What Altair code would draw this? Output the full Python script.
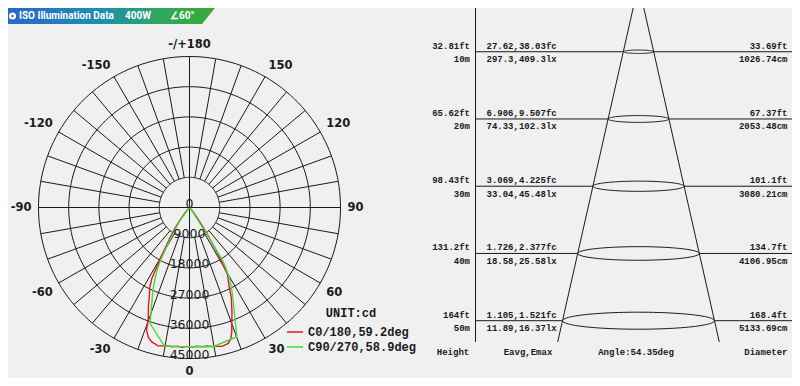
import numpy as np
import pandas as pd
import altair as alt

# ---------------- data ----------------
series_names = ["C0/180,59.2deg", "C90/270,58.9deg"]

c0_angle = [-90, -60, -50, -45, -40, -37.5, -35, -33, -31.3, -30.2, -29.2, -28, -26.5, -24.6,
            -22.5, -20.4, -19.3, -17.5, -15.7, -12.8, -11, -9, -7, -5, -3, -1, 1, 3, 5, 7, 9,
            11, 13.2, 15.9, 17.5, 18.8, 20.5, 22, 23.4, 25, 26.5, 28.5, 29.5, 30.4, 31.4, 32.4,
            33.8, 35, 37, 40, 45, 50, 60, 90]
c0_cd = [0, 0, 150, 500, 2200, 4200, 7500, 10500, 13100, 16000, 19000, 23800, 26500, 28700,
         32000, 35200, 38700, 40700, 41600, 42300, 42000, 41800, 41800, 41500, 41700, 41400,
         41600, 41400, 41700, 41600, 41900, 42100, 42500, 42100, 41000, 39100, 36000, 33800,
         31600, 29500, 26500, 24000, 23100, 19900, 16500, 13200, 9000, 6500, 3500, 1500, 500,
         150, 0, 0]

c90_angle = [-90, -60, -50, -45, -40, -36, -33.7, -32, -30.6, -28.6, -27.5, -26.2, -24, -21.2,
             -18.8, -14.3, -10.3, -5, 0, 5, 9.7, 15, 20.1, 22.5, 24.9, 27, 29.2, 31, 32, 32.7,
             33.2, 35, 40, 45, 50, 90]
c90_cd = [0, 0, 0, 200, 600, 4500, 6900, 9500, 12400, 18400, 20500, 23000, 26800, 31200,
          36500, 39100, 41950, 41600, 41500, 41600, 42080, 41340, 41000, 35250, 30960, 27800,
          24740, 21000, 18450, 12000, 6500, 2000, 600, 200, 0, 0]

ring_cd = [9000, 18000, 27000, 36000, 45000]
ring_labels = ["9000", "18000", "27000", "36000", "45000"]
angle_ticks = [-150, -120, -90, -60, -30, 0, 30, 60, 90, 120, 150, 180]
angle_labels = ["-150", "-120", "-90", "-60", "-30", "0", "30", "60", "90", "120", "150", "-/+180"]

heights_m = [10, 20, 30, 40, 50]
height_ft = ["32.81ft", "65.62ft", "98.43ft", "131.2ft", "164ft"]
height_lbl = ["10m", "20m", "30m", "40m", "50m"]
e_fc = ["27.62,38.03fc", "6.906,9.507fc", "3.069,4.225fc", "1.726,2.377fc", "1.105,1.521fc"]
e_lx = ["297.3,409.3lx", "74.33,102.3lx", "33.04,45.48lx", "18.58,25.58lx", "11.89,16.37lx"]
diam_ft = ["33.69ft", "67.37ft", "101.1ft", "134.7ft", "168.4ft"]
diam_cm = [1026.74, 2053.48, 3080.21, 4106.95, 5133.69]
diam_cm_lbl = ["1026.74cm", "2053.48cm", "3080.21cm", "4106.95cm", "5133.69cm"]
footer_labels = ["Height", "Eavg,Emax", "Angle:54.35deg", "Diameter"]
header_texts = ["ISO Illumination Data", "400W", "\u222060\u00b0"]

# ---------------- styling / layout constants ----------------
W, H = 784, 370
BG = "#f0f0f0"
INK = "#1a1a1a"
RED = "#e8142c"
GREEN = "#3de03d"

# polar panel geometry (chart pixels)
CX, CY, R45 = 181.5, 199.5, 151.0
K = 45000 / R45
xs_p = alt.Scale(domain=[-CX * K, (W - CX) * K], nice=False, zero=False)
ys_p = alt.Scale(domain=[-(H - CY) * K, CY * K], nice=False, zero=False)
LABEL_R = 158 * K

# cone panel geometry
CONE_CX = 630.5
KX = 0.0296            # px per cm of diameter
Y0 = -23.5             # chart y of the apex (0 m)
PXM = 6.724            # px per metre of height
FRAME_BOTTOM_M = (334 - Y0) / PXM
xs_c = alt.Scale(domain=[-CONE_CX / KX, (W - CONE_CX) / KX], nice=False, zero=False)
ys_c = alt.Scale(domain=[(0 - Y0) / PXM, (H - Y0) / PXM], reverse=True, nice=False, zero=False)

# ---------------- polar panel ----------------
t = np.radians(np.arange(0, 361, 2))
circ_df = pd.concat([
    pd.DataFrame({"ring": r, "i": np.arange(len(t)), "x": r * np.sin(t), "y": r * np.cos(t)})
    for r in ring_cd
], ignore_index=True)

sp_ang = np.arange(0, 360, 10)
r0 = np.array([0 if a % 90 == 0 else ring_cd[0] for a in sp_ang])
r1 = np.full(len(sp_ang), ring_cd[-1])
spoke_df = pd.DataFrame({
    "x1": r0 * np.sin(np.radians(sp_ang)), "y1": r0 * np.cos(np.radians(sp_ang)),
    "x2": r1 * np.sin(np.radians(sp_ang)), "y2": r1 * np.cos(np.radians(sp_ang)),
})

curve_df = pd.concat([
    pd.DataFrame({"series": series_names[0], "angle": c0_angle, "cd": c0_cd}),
    pd.DataFrame({"series": series_names[1], "angle": c90_angle, "cd": c90_cd}),
], ignore_index=True)
curve_df["idx"] = np.arange(len(curve_df))

alab_df = pd.DataFrame({"a": angle_ticks, "label": angle_labels})
rlab_df = pd.DataFrame({"cd": [0] + ring_cd, "label": ["0"] + ring_labels})

circles = alt.Chart(circ_df).mark_line(color=INK, strokeWidth=1).encode(
    x=alt.X("x:Q", scale=xs_p, axis=None),
    y=alt.Y("y:Q", scale=ys_p, axis=None),
    detail="ring:N", order="i:Q")

spokes = alt.Chart(spoke_df).mark_rule(color=INK, strokeWidth=1).encode(
    x=alt.X("x1:Q", scale=xs_p, axis=None), y=alt.Y("y1:Q", scale=ys_p, axis=None),
    x2="x2:Q", y2="y2:Q")

curves = alt.Chart(curve_df).transform_calculate(
    px="datum.cd * sin(datum.angle * PI / 180)",
    py="-datum.cd * cos(datum.angle * PI / 180)",
).mark_line(strokeWidth=1.4).encode(
    x=alt.X("px:Q", scale=xs_p, axis=None),
    y=alt.Y("py:Q", scale=ys_p, axis=None),
    order="idx:Q",
    color=alt.Color("series:N", scale=alt.Scale(domain=series_names, range=[RED, GREEN]),
                    legend=alt.Legend(
                        orient="none", legendX=278, legendY=300, padding=0,
                        title="UNIT:cd", titleFont="Liberation Mono", titleFontSize=12,
                        titleFontWeight="bold", titleColor=INK, titleAnchor="middle",
                        titlePadding=3, labelFont="Liberation Mono", labelFontSize=12,
                        labelFontWeight="bold", labelColor=INK, labelLimit=300,
                        symbolType="stroke", symbolSize=256, symbolStrokeWidth=1.5,
                        labelOffset=4, rowPadding=0)))

# angle labels: anchored at the text corner nearest to the circle
def _anchor(a):
    s = np.sin(np.radians(a))
    c = -np.cos(np.radians(a))      # +1 = top of the plot
    align = "left" if s > 0.01 else ("right" if s < -0.01 else "center")
    baseline = "bottom" if c > 0.01 else ("top" if c < -0.01 else "middle")
    return align, baseline

alab_df["align"] = [_anchor(a)[0] for a in angle_ticks]
alab_df["base"] = [_anchor(a)[1] for a in angle_ticks]
angle_text = []
for (al, bl), grp in alab_df.groupby(["align", "base"]):
    angle_text.append(
        alt.Chart(grp).transform_calculate(
            lx=f"{LABEL_R} * sin(datum.a * PI / 180)",
            ly=f"-{LABEL_R} * cos(datum.a * PI / 180)",
        ).mark_text(font="DejaVu Sans", fontSize=11.5, fontWeight="bold", color=INK,
                    align=al, baseline=bl).encode(
            x=alt.X("lx:Q", scale=xs_p, axis=None), y=alt.Y("ly:Q", scale=ys_p, axis=None),
            text="label:N"))

ring_text = alt.Chart(rlab_df).transform_calculate(
    lx="0", ly="-datum.cd",
).mark_text(font="DejaVu Sans", fontSize=12.5, color=INK, align="center",
            baseline="middle", dy=-3.5).encode(
    x=alt.X("lx:Q", scale=xs_p, axis=None), y=alt.Y("ly:Q", scale=ys_p, axis=None),
    text="label:N")

polar = alt.layer(circles, spokes, curves, ring_text, *angle_text)

# ---------------- cone panel ----------------
rows = pd.DataFrame({
    "h": heights_m, "ft": height_ft, "m": height_lbl, "fc": e_fc, "lx": e_lx,
    "dft": diam_ft, "dcm": diam_cm_lbl, "D": diam_cm,
})
rows["xl"] = -rows["D"] / 2
rows["xr"] = rows["D"] / 2

last = rows.iloc[-1]
bottom_half = last["D"] / 2 * FRAME_BOTTOM_M / last["h"]
cone_df = pd.DataFrame({
    "side": ["L", "L", "R", "R"],
    "x": [0, -bottom_half, 0, bottom_half],
    "h": [0, FRAME_BOTTOM_M, 0, FRAME_BOTTOM_M],
})

tt = np.linspace(0, 2 * np.pi, 97)
ell = []
for _, r in rows.iterrows():
    semi_h_m = 0.056 * r["D"] * KX / PXM
    ell.append(pd.DataFrame({"row": r["h"], "i": np.arange(len(tt)),
                             "x": r["D"] / 2 * np.cos(tt),
                             "h": r["h"] + semi_h_m * np.sin(tt)}))
ell_df = pd.concat(ell, ignore_index=True)

TXT = dict(font="Liberation Mono", fontSize=9, fontWeight="bold", color=INK, baseline="middle")

hl_left = alt.Chart(rows).mark_rule(color=INK, strokeWidth=1).encode(
    x=alt.X("xl:Q", scale=xs_c, axis=None), x2=alt.value(467.5),
    y=alt.Y("h:Q", scale=ys_c, axis=None))
hl_right = alt.Chart(rows).mark_rule(color=INK, strokeWidth=1).encode(
    x=alt.X("xr:Q", scale=xs_c, axis=None), x2=alt.value(W),
    y=alt.Y("h:Q", scale=ys_c, axis=None))
vline = alt.Chart(rows).mark_rule(color=INK, strokeWidth=1).encode(
    x=alt.value(467.5), y=alt.value(0), y2=alt.value(334))
cone = alt.Chart(cone_df).mark_line(color=INK, strokeWidth=1, clip=True).encode(
    x=alt.X("x:Q", scale=xs_c, axis=None), y=alt.Y("h:Q", scale=ys_c, axis=None),
    detail="side:N", order="h:Q")
ellipses = alt.Chart(ell_df).mark_line(color=INK, strokeWidth=1).encode(
    x=alt.X("x:Q", scale=xs_c, axis=None), y=alt.Y("h:Q", scale=ys_c, axis=None),
    detail="row:N", order="i:Q")

def row_text(field, xpx, align, dy):
    return alt.Chart(rows).mark_text(align=align, dy=dy, **TXT).encode(
        x=alt.value(xpx), y=alt.Y("h:Q", scale=ys_c, axis=None), text=f"{field}:N")

texts = [
    row_text("ft", 462, "right", -6), row_text("m", 462, "right", 7.5),
    row_text("fc", 478.5, "left", -6), row_text("lx", 478.5, "left", 7.5),
    row_text("dft", 779.5, "right", -6), row_text("dcm", 779.5, "right", 7.5),
]
foot_df = pd.DataFrame({"label": footer_labels,
                        "xp": [445, 520, 628, 779.5],
                        "al": ["center", "center", "center", "right"]})
footer = [
    alt.Chart(foot_df.iloc[[i]]).mark_text(align=foot_df["al"][i], **TXT).encode(
        x=alt.value(float(foot_df["xp"][i])), y=alt.value(344.3), text="label:N")
    for i in range(len(foot_df))
]
cone_panel = alt.layer(hl_left, hl_right, vline, cone, ellipses, *texts, *footer)

# ---------------- header banner ----------------
ban_df = pd.DataFrame({"bx": [0, 194, 207], "by": [0, 0, 0], "by2": [16, 16, 0]})
bx_s = alt.Scale(domain=[0, W], range=[0, W], nice=False, zero=False)
by_s = alt.Scale(domain=[0, H], range=[0, H], nice=False, zero=False)
grad = alt.Gradient(gradient="linear", x1=0, x2=1, y1=0, y2=0, stops=[
    alt.GradientStop(color="#2b67c6", offset=0),
    alt.GradientStop(color="#1c8fb0", offset=0.45),
    alt.GradientStop(color="#2fa85a", offset=0.75),
    alt.GradientStop(color="#3aab35", offset=1)])
banner_bg = alt.Chart(ban_df).mark_area(color=grad, interpolate="linear").encode(
    x=alt.X("bx:Q", scale=bx_s, axis=None), y=alt.Y("by:Q", scale=by_s, axis=None),
    y2="by2:Q")
hdr_df = pd.DataFrame({"label": header_texts, "xp": [11, 117, 162]})
banner_icon = alt.Chart(hdr_df.iloc[[0]]).mark_point(
    shape="circle", filled=True, color="white", opacity=1, size=50).encode(
    x=alt.value(4.5), y=alt.value(8))
banner_arrow = alt.Chart(hdr_df.iloc[[0]]).mark_point(
    shape="triangle-right", filled=True, color="#1d4f9a", opacity=1, size=9).encode(
    x=alt.value(5), y=alt.value(8))
banner_txt = alt.Chart(hdr_df).mark_text(
    font="Roboto", fontSize=10, fontWeight="bold", color="white", align="left",
    baseline="middle").encode(x=alt.X("xp:Q", scale=bx_s, axis=None), y=alt.value(8),
                              text="label:N")
banner = alt.layer(banner_bg, banner_icon, banner_arrow, banner_txt)

chart = alt.layer(polar, cone_panel, banner).resolve_scale(
    x="independent", y="independent"
).properties(
    width=W, height=H, padding=0, background=BG,
    autosize=alt.AutoSizeParams(type="none"),
).configure_view(stroke=None)

chart.save("out.html", embed_options={"renderer": "svg", "actions": False})
